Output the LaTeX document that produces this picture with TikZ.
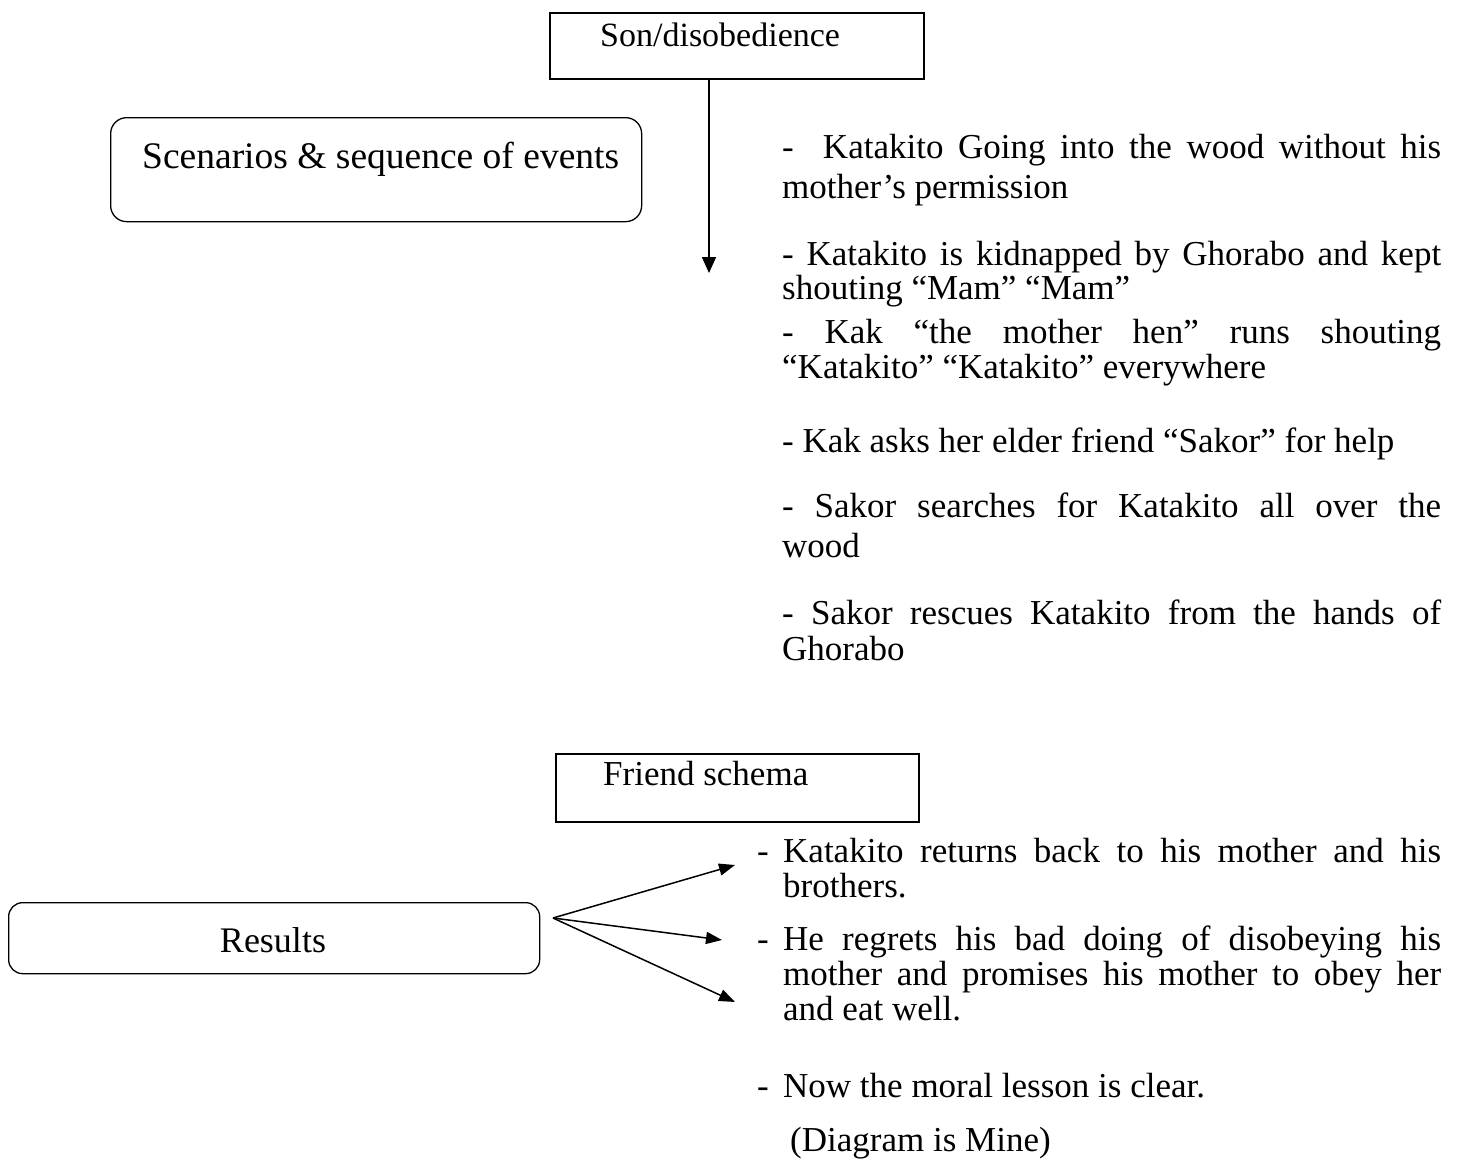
\documentclass[tikz,border=0pt]{standalone}
\usepackage{fontspec}
\setmainfont{Liberation Serif}
\usetikzlibrary{arrows.meta}
\newcommand{\jline}[1]{\makebox[659pt][s]{#1}}
\begin{document}
\begin{tikzpicture}[x=1pt,y=-1pt,
  sqbox/.style={draw, line width=1.7pt, inner sep=0pt, anchor=north west},
  rbox/.style={draw, line width=1.3pt, rounded corners=16pt, inner sep=0pt, anchor=north west},
  txt/.style={anchor=base west, inner sep=0pt, font=\fontsize{35}{35}\selectfont},
  arr/.style={line width=1.6pt, -{Triangle[length=16pt,width=14pt]}},
  arrs/.style={line width=1.5pt, -{Triangle[length=16pt,width=12pt]}}]
\useasboundingbox (0,0) rectangle (1460,1162);

% boxes
\node[sqbox, minimum width=374pt, minimum height=66pt] (son) at (549,12) {};
\node[txt, font=\fontsize{34}{34}\selectfont] (sont) at (600,46) {Son/disobedience};
\node[rbox, minimum width=531pt, minimum height=104pt] (scen) at (110,117) {};
\node[txt, font=\fontsize{37.5}{37.5}\selectfont] (scent) at (142,168) {Scenarios \& sequence of events};
\node[sqbox, minimum width=363pt, minimum height=68pt] (friend) at (555,753) {};
\node[txt] (friendt) at (603,785) {Friend schema};
\node[rbox, minimum width=531pt, minimum height=71pt, rounded corners=14pt] (res) at (8,902) {};
\node[anchor=base, inner sep=0pt, font=\fontsize{36}{36}\selectfont] (rest) at (273,952) {Results};

% vertical arrow
\coordinate (a1) at (709,273);
\draw[arr] (son.south -| a1) -- (a1);

% result arrows
\coordinate (rs) at (553,918);
\coordinate (t1) at (735,865);
\coordinate (t2) at (722,940);
\coordinate (t3) at (735,1002);
\draw[arrs] (rs) -- (t1);
\draw[arrs] (rs) -- (t2);
\draw[arrs] (rs) -- (t3);

% right column, upper part
\node[txt] (l1) at (782,158) {\jline{-~~Katakito Going into the wood without his}};
\node[txt] (l2) at (782,198) {mother’s permission};
\node[txt] (l3) at (782,265) {\jline{- Katakito is kidnapped by Ghorabo and kept}};
\node[txt] (l4) at (782,299) {shouting “Mam” “Mam”};
\node[txt] (l5) at (782,343) {\jline{- Kak “the mother hen” runs shouting}};
\node[txt] (l6) at (782,378) {“Katakito” “Katakito” everywhere};
\node[txt] (l7) at (782,452) {- Kak asks her elder friend “Sakor” for help};
\node[txt] (l8) at (782,517) {\jline{- Sakor searches for Katakito all over the}};
\node[txt] (l9) at (782,557) {wood};
\node[txt] (l10) at (782,624) {\jline{- Sakor rescues Katakito from the hands of}};
\node[txt] (l11) at (782,660) {Ghorabo};

% right column, lower part
\node[txt] (d1) at (757,862) {-};
\node[txt] (l12) at (783,862) {\makebox[658pt][s]{Katakito returns back to his mother and his}};
\node[txt] (l13) at (783,897) {brothers.};
\node[txt] (d2) at (757,950) {-};
\node[txt] (l14) at (783,950) {\makebox[658pt][s]{He regrets his bad doing of disobeying his}};
\node[txt] (l15) at (783,985) {\makebox[658pt][s]{mother and promises his mother to obey her}};
\node[txt] (l16) at (783,1020) {and eat well.};
\node[txt] (d3) at (757,1097) {-};
\node[txt] (l17) at (783,1097) {Now the moral lesson is clear.};
\node[txt] (l18) at (790,1151) {(Diagram is Mine)};
\end{tikzpicture}
\end{document}
